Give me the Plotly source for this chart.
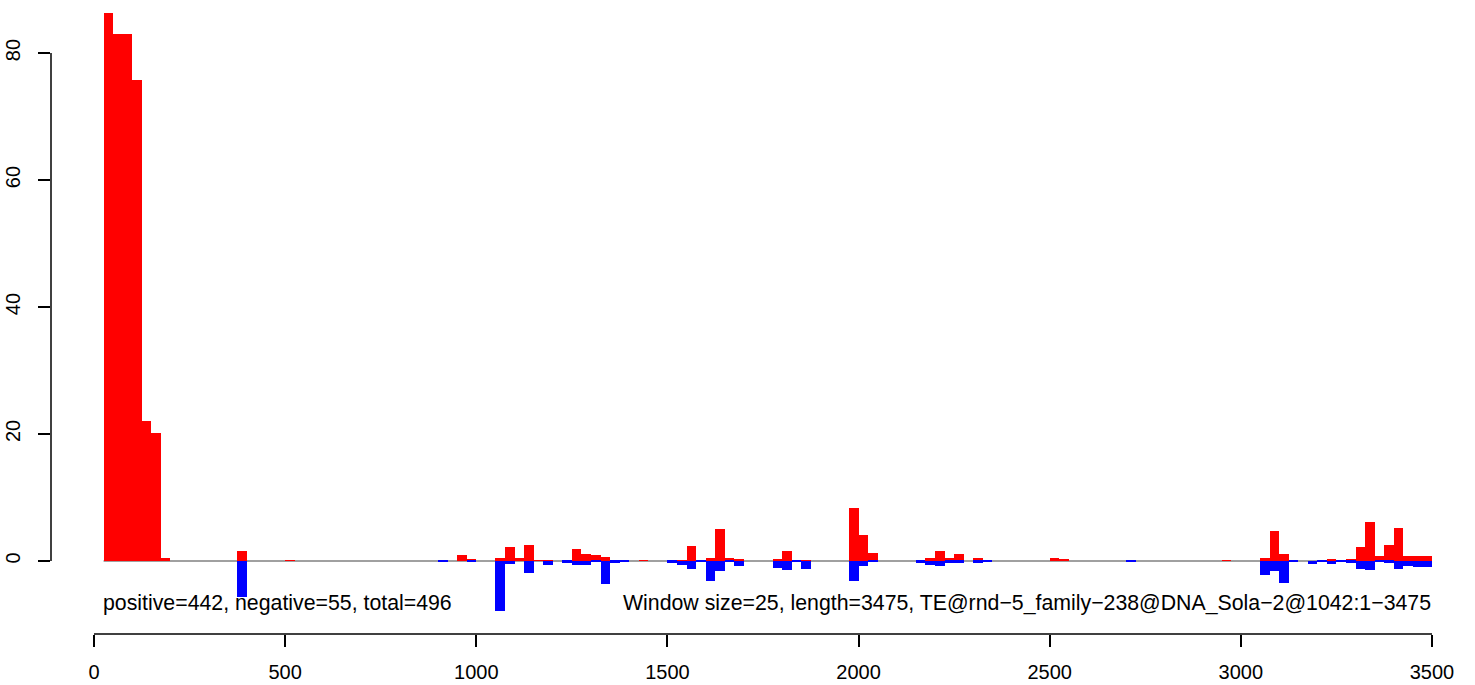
import plotly.graph_objects as go

WINDOW = 25

# Window start positions and values of positive (red) strand coverage
pos_starts = [25, 50, 75, 100, 125, 150, 175, 375, 500, 950, 975, 1050, 1075, 1100, 1125,
              1150, 1175, 1250, 1275, 1300, 1325, 1425, 1525, 1550, 1575, 1600, 1625, 1650,
              1675, 1775, 1800, 1850, 1975, 2000, 2025, 2175, 2200, 2225, 2250, 2300, 2500,
              2525, 2950, 3050, 3075, 3100, 3200, 3225, 3275, 3300, 3325, 3350, 3375, 3400,
              3425, 3450, 3475]
pos_vals = [86.3, 83.0, 83.0, 75.8, 22.0, 20.2, 0.5, 1.6, 0.1, 0.95, 0.3, 0.5, 2.2, 0.5, 2.5,
            0.15, 0.15, 1.9, 1.15, 0.95, 0.6, 0.15, 0.15, 2.3, 0.15, 0.4, 5.0, 0.4,
            0.3, 0.3, 1.6, 0.15, 8.4, 4.1, 1.3, 0.45, 1.6, 0.45, 1.05, 0.45, 0.45,
            0.3, 0.15, 0.45, 4.7, 1.05, 0.15, 0.3, 0.3, 2.2, 6.1, 0.75, 2.5, 5.2,
            0.75, 0.75, 0.75]

# Window start positions and values of negative (blue) strand coverage
neg_starts = [375, 900, 975, 1050, 1075, 1125, 1175, 1225, 1250, 1275, 1300, 1325, 1350, 1375,
              1500, 1525, 1550, 1575, 1600, 1625, 1650, 1675, 1775, 1800, 1825, 1850, 1975,
              2000, 2025, 2150, 2175, 2200, 2225, 2250, 2300, 2325, 2700, 3050, 3075, 3100,
              3125, 3175, 3200, 3225, 3250, 3275, 3300, 3325, 3350, 3375, 3400, 3425, 3450, 3475]
neg_vals = [-5.7, -0.2, -0.1, -7.8, -0.45, -1.85, -0.6, -0.3, -0.6, -0.6, -0.2, -3.6, -0.3, -0.15,
            -0.3, -0.6, -1.2, -0.2, -3.1, -1.55, -0.1, -0.75, -1.05, -1.35, -0.1, -1.2, -3.1,
            -0.75, -0.1, -0.3, -0.6, -0.75, -0.3, -0.3, -0.3, -0.1, -0.1, -2.2, -1.55, -3.4,
            -0.1, -0.5, -0.1, -0.5, -0.1, -0.3, -1.2, -1.35, -0.1, -0.3, -1.2, -0.75, -0.9, -0.9]

x_ticks = [0, 500, 1000, 1500, 2000, 2500, 3000, 3500]
y_ticks = [0, 20, 40, 60, 80]

left_label = "positive=442, negative=55, total=496"
right_label = "Window size=25, length=3475, TE@rnd\u22125_family\u2212238@DNA_Sola\u22122@1042:1\u22123475"
label_y = -6.6
seq_start, seq_end = 25, 3500

FONT = "Liberation Sans, Arial, Helvetica, sans-serif"

fig = go.Figure()
fig.add_trace(go.Bar(
    x=[s + WINDOW / 2 for s in pos_starts], y=pos_vals, width=WINDOW,
    marker=dict(color="#FF0000", line=dict(width=0)), showlegend=False, hoverinfo="x+y"))
fig.add_trace(go.Bar(
    x=[s + WINDOW / 2 for s in neg_starts], y=neg_vals, width=WINDOW,
    marker=dict(color="#0000FF", line=dict(width=0)), showlegend=False, hoverinfo="x+y"))

shapes = [
    # zero baseline
    dict(type="line", xref="x", yref="y", x0=seq_start, x1=seq_end, y0=0, y1=0,
         line=dict(color="#808080", width=1.5), layer="below"),
    # x axis line (from first to last tick)
    dict(type="line", xref="x", yref="paper", x0=x_ticks[0], x1=x_ticks[-1], y0=0, y1=0,
         line=dict(color="black", width=1.5)),
    # y axis line
    dict(type="line", xref="paper", yref="y", x0=0, x1=0, y0=y_ticks[0], y1=y_ticks[-1],
         line=dict(color="black", width=1.5)),
]

annotations = [
    dict(x=seq_start, y=label_y, xref="x", yref="y", text=left_label, showarrow=False,
         xanchor="left", yanchor="middle", xshift=-3,
         font=dict(size=21.3, color="black", family=FONT)),
    dict(x=x_ticks[-1], y=label_y, xref="x", yref="y", text=right_label, showarrow=False,
         xanchor="right", yanchor="middle", xshift=1,
         font=dict(size=21.3, color="black", family=FONT)),
]

fig.update_layout(
    width=1475, height=685,
    margin=dict(l=51, r=0, t=0, b=51, pad=0),
    paper_bgcolor="white", plot_bgcolor="white",
    barmode="overlay", bargap=0,
    shapes=shapes, annotations=annotations,
    font=dict(family=FONT, color="black"),
    xaxis=dict(range=[-112.5, 3612.5], tickvals=x_ticks, ticktext=[str(v) for v in x_ticks],
               showgrid=False, zeroline=False, showline=False,
               ticks="outside", ticklen=12, tickwidth=1.5, tickcolor="black",
               ticklabelstandoff=8, tickfont=dict(size=20, family=FONT)),
    yaxis=dict(range=[-11.5, 88.35], tickvals=y_ticks, ticktext=[str(v) for v in y_ticks],
               showgrid=False, zeroline=False, showline=False,
               ticks="outside", ticklen=12, tickwidth=1.5, tickcolor="black",
               tickangle=-90, ticklabelstandoff=10, tickfont=dict(size=20, family=FONT)),
)

fig.write_html("out.html", config={"displayModeBar": False},
               post_script="document.body.style.margin='0px';document.body.style.overflow='hidden';")
